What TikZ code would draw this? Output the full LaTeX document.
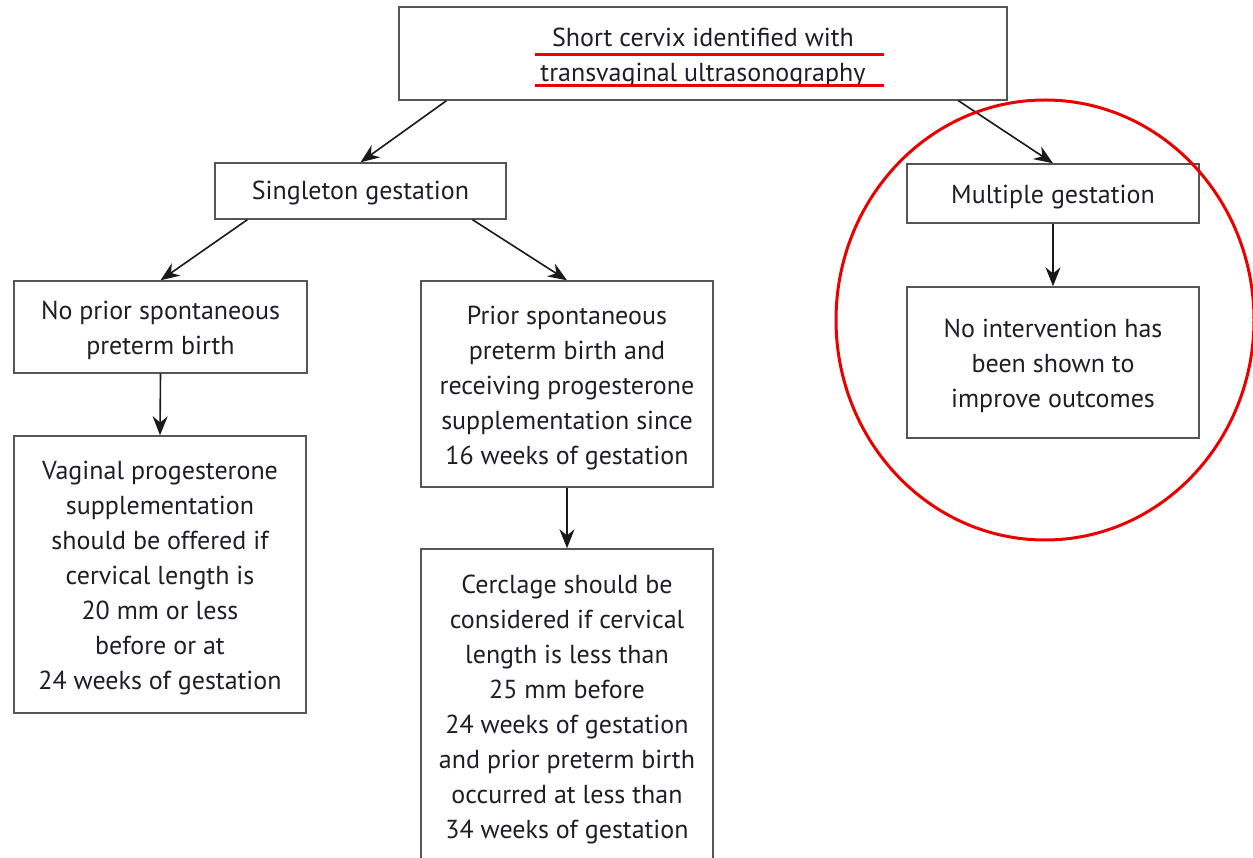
\documentclass[tikz,border=0pt]{standalone}
\usepackage{fontspec}
\setmainfont{PT Sans}
\usetikzlibrary{calc,arrows.meta}
\definecolor{boxgray}{RGB}{85,85,85}
\definecolor{txt}{RGB}{30,30,40}
\definecolor{annot}{RGB}{235,0,0}
\begin{document}
\begin{tikzpicture}[x=1pt,y=-1pt,
  box/.style={draw=boxgray,line width=1.4pt,rectangle,inner sep=0pt},
  lbl/.style={align=center,inner sep=0pt,text=txt,font=\fontsize{26}{35}\selectfont},
  conn/.style={draw=black!90,line width=1.6pt,-{Stealth[length=19pt,width=15pt]}},
  redmark/.style={draw=annot,line width=3pt}]
\useasboundingbox (0,0) rectangle (1253,858);
\node[box,minimum width=608pt,minimum height=93pt] (top) at (703,53.5) {};
\node[box,minimum width=291pt,minimum height=56pt] (single) at (360.5,191) {};
\node[box,minimum width=292pt,minimum height=59pt] (multi) at (1053,193.5) {};
\node[box,minimum width=293pt,minimum height=92pt] (noprior) at (160.5,327) {};
\node[box,minimum width=292pt,minimum height=206pt] (prior) at (567,384) {};
\node[box,minimum width=292pt,minimum height=277pt] (vaginal) at (160,574.5) {};
\node[box,minimum width=292pt,minimum height=315pt] (cerclage) at (567,706.5) {};
\node[box,minimum width=292pt,minimum height=151pt] (noint) at (1053,362.5) {};
% texts
\node[lbl] (topt) at ([yshift=-4.5pt]top.center) {Short cervix identified with\\transvaginal ultrasonography};
\node[lbl] (singlet) at ([yshift=-2.5pt]single.center) {Singleton gestation};
\node[lbl] (multit) at ([yshift=-4pt]multi.center) {Multiple gestation};
\node[lbl] (nopriort) at ([yshift=-3.5pt]noprior.center) {No prior spontaneous\\preterm birth};
\node[lbl] (priort) at ([yshift=-4pt]prior.center) {Prior spontaneous\\preterm birth and\\receiving progesterone\\supplementation since\\16 weeks of gestation};
\node[lbl] (vaginalt) at ([yshift=-3.5pt]vaginal.center) {Vaginal progesterone\\supplementation\\should be offered if\\cervical length is\\20 mm or less\\before or at\\24 weeks of gestation};
\node[lbl] (cerclaget) at ([yshift=-2.5pt]cerclage.center) {Cerclage should be\\considered if cervical\\length is less than\\25 mm before\\24 weeks of gestation\\and prior preterm birth\\occurred at less than\\34 weeks of gestation};
\node[lbl] (nointt) at ([yshift=-3.5pt]noint.center) {No intervention has\\been shown to\\improve outcomes};
% connectors
\coordinate (a1) at ($(top.south west)!0.079!(top.south east)$);
\draw[conn] (a1) -- ($(single.north west)!0.5!(single.north east)$);
\coordinate (a2) at ($(top.south west)!0.919!(top.south east)$);
\draw[conn] (a2) -- (multi.north);
\coordinate (a3) at ($(single.south west)!0.113!(single.south east)$);
\draw[conn] (a3) -- (noprior.north);
\coordinate (a4) at ($(single.south west)!0.883!(single.south east)$);
\draw[conn] (a4) -- (prior.north);
\draw[conn] (noprior.south) -- (vaginal.north);
\draw[conn] (prior.south) -- (cerclage.north);
\draw[conn] (multi.south) -- (noint.north);
% red annotations
\draw[redmark] (535,55) -- (884,55);
\draw[redmark] (535,86) -- (884,86);
\draw[redmark] (1045,320) ellipse [x radius=209, y radius=220];
\end{tikzpicture}
\end{document}
